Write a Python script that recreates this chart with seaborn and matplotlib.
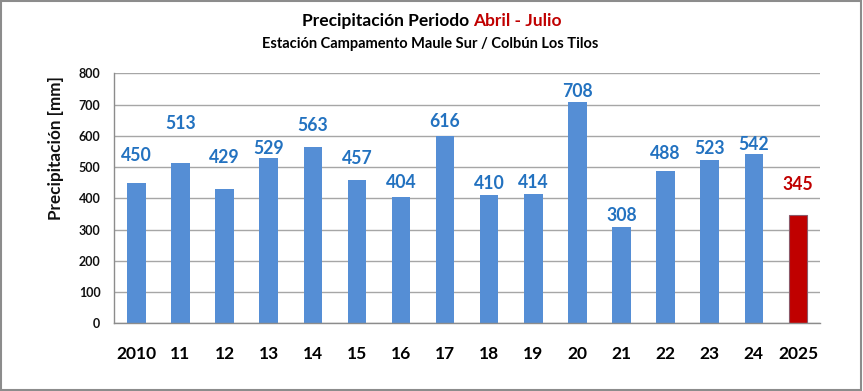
import matplotlib
matplotlib.use("Agg")
import matplotlib.pyplot as plt
import seaborn as sns
import pandas as pd
from matplotlib.patches import Rectangle

# ---- data ----
years = ["2010", "11", "12", "13", "14", "15", "16", "17", "18", "19",
         "20", "21", "22", "23", "24", "2025"]
bar_values = [450, 513, 429, 529, 563, 457, 404, 600, 410, 414,
              708, 308, 488, 523, 542, 345]
value_labels = ["450", "513", "429", "529", "563", "457", "404", "616", "410", "414",
                "708", "308", "488", "523", "542", "345"]
y_ticks = [0, 100, 200, 300, 400, 500, 600, 700, 800]

# label vertical offsets above bar tops (pixels) as placed in the original
label_offsets_px = [27, 39, 32, 9, 22, 22, 15, 14, 12, 11, 11, 12, 17, 11, 9, 31]

BLUE = "#558ED5"
RED = "#C00000"
LBL_BLUE = "#2372C0"

sns.set_theme(style="white")
plt.rcParams["font.family"] = ["Lato", "DejaVu Sans"]

df = pd.DataFrame({"year": years, "value": bar_values})
colors = [BLUE] * (len(years) - 1) + [RED]

fig = plt.figure(figsize=(8.63, 3.91), dpi=100)
ax = fig.add_axes([114.3 / 863, 1 - 323.3 / 391, (820 - 114.3) / 863, 250 / 391])

sns.barplot(data=df, x="year", y="value", hue="year", palette=colors,
            legend=False, width=0.42, ax=ax, saturation=1)
for i, p in enumerate(ax.patches):
    if i == len(ax.patches) - 1:
        p.set_edgecolor("#8B5A6A")
        p.set_linewidth(0.8)
    else:
        p.set_edgecolor("none")

ax.set_xlim(-0.5, len(years) - 0.5)
ax.set_ylim(0, 800)
ax.set_yticks(y_ticks)
ax.set_yticklabels([str(t) for t in y_ticks], fontsize=9, fontweight="bold", color="#111111")
ax.tick_params(axis="y", length=0, pad=10)
ax.tick_params(axis="x", length=0, pad=16)
for lbl in ax.get_xticklabels():
    lbl.set_fontsize(12.5)
    lbl.set_fontweight("bold")
    lbl.set_color("#000000")

ax.yaxis.grid(True, color="#A6A6A6", linewidth=1.0)
ax.set_axisbelow(True)
for s in ["top", "right"]:
    ax.spines[s].set_visible(False)
for s in ["left", "bottom"]:
    ax.spines[s].set_color("#8C8C8C")
    ax.spines[s].set_linewidth(1.0)

ax.set_xlabel("")
ax.set_ylabel("Precipitación [mm]", fontsize=12.3, fontweight="bold", color="#111111")
ax.yaxis.set_label_coords((56 - 114.3) / 705.7, (323.3 - 148) / 250)
ax.yaxis.label.set_va("center")

for i, (v, t, off) in enumerate(zip(bar_values, value_labels, label_offsets_px)):
    col = RED if i == len(years) - 1 else LBL_BLUE
    ax.annotate(t, xy=(i, v), xytext=(0, off * 0.72), textcoords="offset points",
                ha="center", va="center", fontsize=12.7, fontweight="bold", color=col)

# two-colour title
fig.text(469 / 863, 1 - 21 / 391, "Precipitación Periodo", ha="right", va="center",
         fontsize=12.5, fontweight="bold", color="#000000")
fig.text(473 / 863, 1 - 21 / 391, "Abril - Julio", ha="left", va="center",
         fontsize=12.5, fontweight="bold", color=RED)
fig.text(430 / 863, 1 - 44 / 391, "Estación Campamento Maule Sur / Colbún Los Tilos",
         ha="center", va="center", fontsize=10.5, fontweight="bold", color="#000000")

# outer frame
fig.patches.append(Rectangle((0.001, 0.002), 0.997, 0.995, transform=fig.transFigure,
                             fill=False, edgecolor="#8C8C8C", linewidth=1.5))

fig.savefig("out.png", dpi=100)
